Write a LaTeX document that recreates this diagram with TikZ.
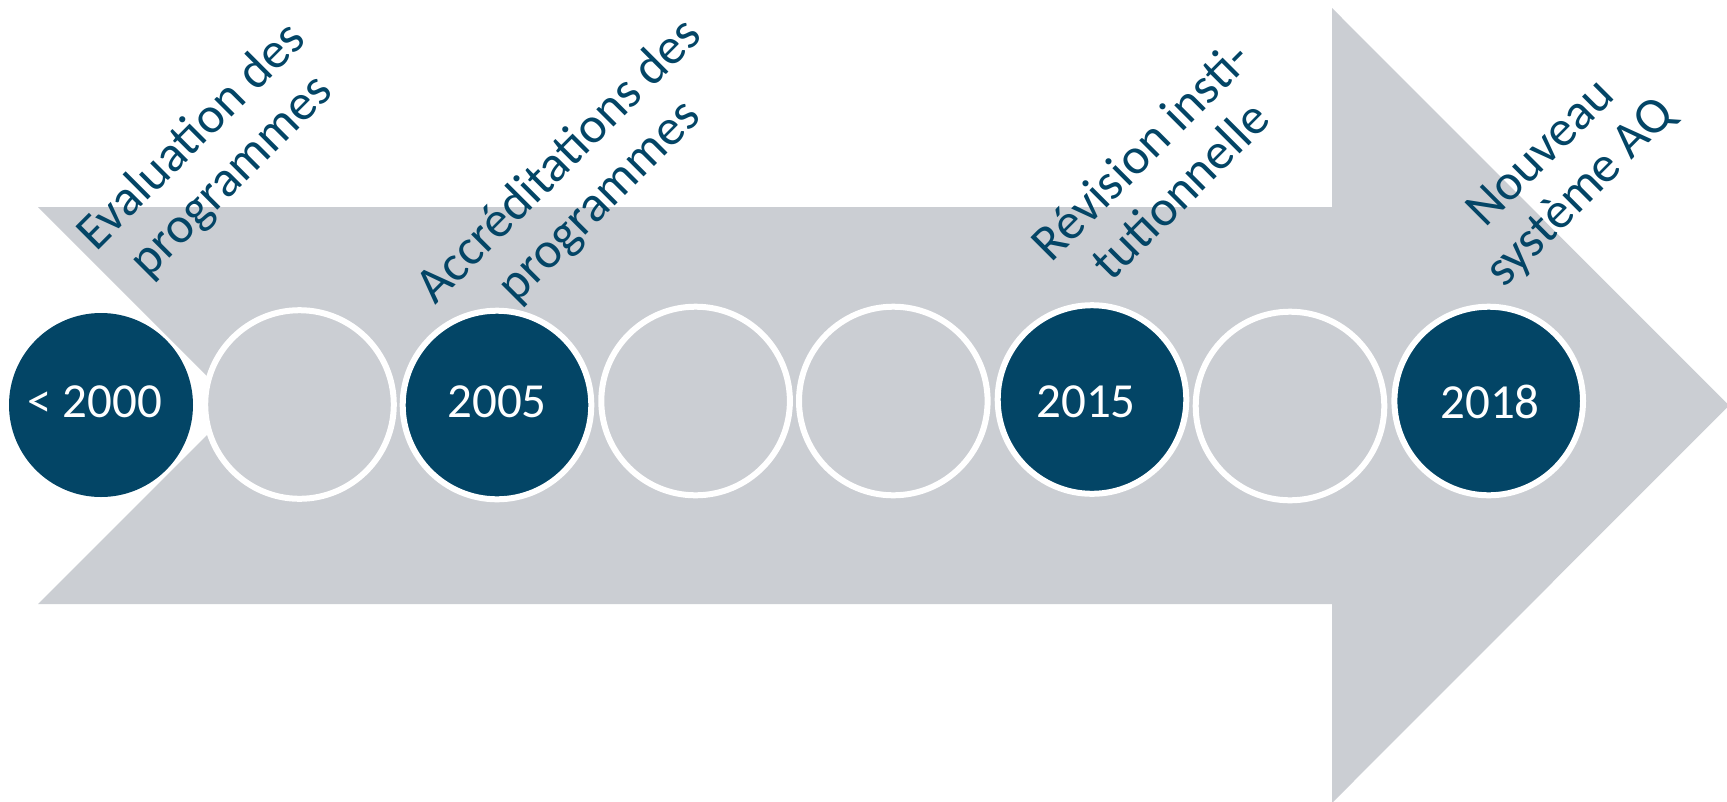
\documentclass[tikz,border=0pt]{standalone}
\usepackage{fontspec}
\setmainfont{Carlito}
\definecolor{navy}{RGB}{3,69,102}
\definecolor{arrowgray}{RGB}{203,206,211}
\begin{document}
\begin{tikzpicture}[x=1pt,y=-1pt,
  yeartxt/.style={font=\fontsize{49}{59}\selectfont, text=white, inner sep=0pt},
  lab/.style={font=\fontsize{51}{56}\selectfont, text=navy, rotate=45, align=center, inner sep=0pt},
  ringdot/.style={circle, minimum size=188.6pt, inner sep=0pt, line width=6pt, draw=white},
  emptydot/.style={ringdot, fill=arrowgray},
  yeardot/.style={ringdot, fill=navy},
  firstdot/.style={circle, minimum size=184pt, inner sep=0pt, fill=navy}]
\useasboundingbox (0,0) rectangle (1727,801);
% big arrow
\fill[arrowgray] (38,207) -- (1332,207) -- (1332,8) -- (1729,405.5) -- (1332,803)
  -- (1332,604) -- (38,604) -- (236.5,405.5) -- cycle;
% circles
\node[firstdot] (c1) at (101,405) {};
\node[emptydot] (c2) at (299.5,404.5) {};
\node[yeardot]  (c3) at (497,405) {};
\node[emptydot] (c4) at (695.6,401) {};
\node[emptydot] (c5) at (893.3,401) {};
\node[yeardot]  (c6) at (1092,399.5) {};
\node[emptydot] (c7) at (1290,406) {};
\node[yeardot]  (c8) at (1488.7,401) {};
% years
\node[yeartxt] (y1) at (94.5,401.5) {< 2000};
\node[yeartxt] (y3) at (497,401.5) {2005};
\node[yeartxt] (y6) at (1086,401.5) {2015};
\node[yeartxt] (y8) at (1490,401.5) {2018};
% labels
\node[lab] (l1) at (212,157) {Evaluation des\\programmes};
\node[lab] (l2) at (580,182) {Accréditations des\\programmes};
\node[lab] (l3) at (1160,170) {Révision insti-\\tutionnelle};
\node[lab] (l4) at (1562,174) {Nouveau\\système AQ};
\end{tikzpicture}
\end{document}
